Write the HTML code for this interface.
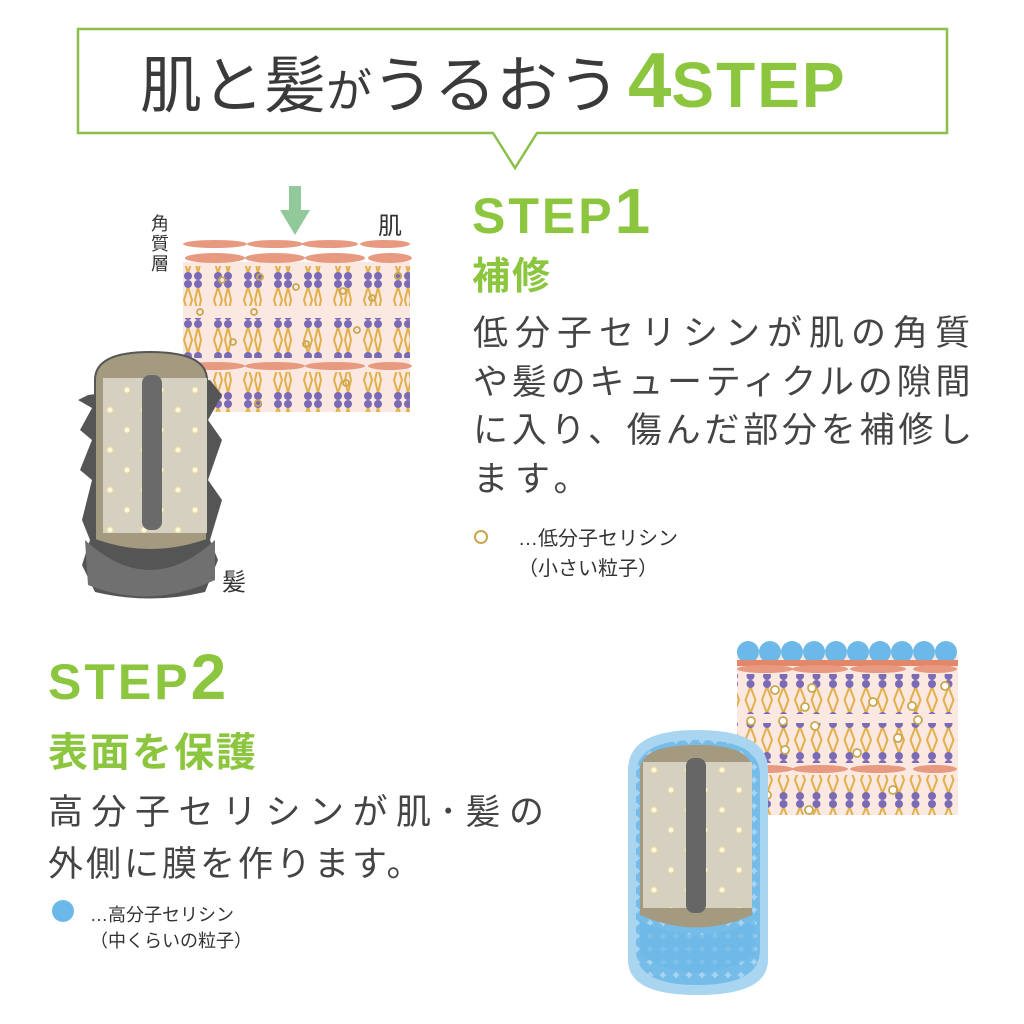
<!DOCTYPE html>
<html><head><meta charset="utf-8"><style>
html,body{margin:0;padding:0;background:#fff;}
body{width:1024px;height:1024px;position:relative;overflow:hidden;font-family:"Liberation Sans","Noto Sans CJK JP",sans-serif;}
.t{position:absolute;white-space:nowrap;}
</style></head><body>
<svg width="1024" height="1024" style="position:absolute;left:0;top:0">
<defs>
<pattern id="lip" width="30" height="40" patternUnits="userSpaceOnUse">
 <path d="M8 7 L4 20 L8 33 L12 20 Z M18 7 L15 20 L18 33 L21 20Z" fill="none" stroke="#e2b04a" stroke-width="2"/>
 <circle cx="8" cy="4" r="4" fill="#7b6bb5"/><circle cx="8" cy="36" r="4" fill="#7b6bb5"/>
 <circle cx="18" cy="4" r="4" fill="#7b6bb5"/><circle cx="18" cy="36" r="4" fill="#7b6bb5"/>
</pattern>
<pattern id="lip2" width="16.5" height="40" patternUnits="userSpaceOnUse">
 <path d="M8 7 L3 20 L8 33 L13 20 Z" fill="none" stroke="#e2b04a" stroke-width="2"/>
 <circle cx="8" cy="4" r="4" fill="#7b6bb5"/><circle cx="8" cy="36" r="4" fill="#7b6bb5"/>
</pattern>
<pattern id="dots" width="34" height="40" patternUnits="userSpaceOnUse">
 <circle cx="8" cy="10" r="3" fill="#fff8dc" stroke="#e8d9a0"/><circle cx="25" cy="30" r="3" fill="#fff8dc" stroke="#e8d9a0"/>
</pattern>
<pattern id="blu" width="13" height="13" patternUnits="userSpaceOnUse">
 <circle cx="6.5" cy="6.5" r="7" fill="#6cb8e8" opacity="0.85"/>
</pattern>
</defs>
<path d="M78 29 H947 V133 H537 L515 168 L493 133 H78 Z" fill="#fff" stroke="#8cbf4a" stroke-width="2.5"/>
<rect x="183" y="262" width="227" height="150" fill="#fbe8e0"/>
<g fill="#e79a80">
<ellipse cx="215" cy="244" rx="32" ry="4"/><ellipse cx="275" cy="244" rx="28" ry="4"/><ellipse cx="330" cy="244" rx="28" ry="4"/><ellipse cx="385" cy="244" rx="25" ry="4"/>
<ellipse cx="215" cy="258" rx="30" ry="5"/><ellipse cx="275" cy="258" rx="30" ry="5"/><ellipse cx="335" cy="258" rx="30" ry="5"/><ellipse cx="390" cy="258" rx="22" ry="5"/>
<ellipse cx="215" cy="366" rx="30" ry="4"/><ellipse cx="275" cy="366" rx="30" ry="4"/><ellipse cx="335" cy="366" rx="30" ry="4"/><ellipse cx="390" cy="366" rx="22" ry="4"/>
</g>
<rect x="183" y="266" width="227" height="40" fill="url(#lip)"/>
<rect x="183" y="318" width="227" height="40" fill="url(#lip)"/>
<rect x="183" y="372" width="227" height="40" fill="url(#lip)"/>
<g fill="none" stroke="#c9a750" stroke-width="1.8">
<circle cx="222" cy="280" r="3"/><circle cx="260" cy="277" r="3"/><circle cx="254" cy="312" r="3"/><circle cx="296" cy="287" r="3"/><circle cx="343" cy="291" r="3"/><circle cx="372" cy="298" r="3"/><circle cx="200" cy="312" r="3"/><circle cx="233" cy="342" r="3"/><circle cx="306" cy="344" r="3"/><circle cx="357" cy="330" r="3"/><circle cx="258" cy="403" r="3"/><circle cx="346" cy="383" r="3"/><circle cx="398" cy="276" r="3"/>
</g>
<path d="M289 186 H301 V210 H310 L295 235 L280 210 H289 Z" fill="#7fc08a" opacity="0.85"/>
<g>
<path d="M88 395 L78 400 L92 408 L80 430 L92 440 L80 470 L92 480 L82 520 L90 540 L82 565 L95 592 Q150 605 205 592 L218 560 L210 540 L222 500 L208 480 L222 440 L208 420 L222 395 L210 380 Z" fill="#555"/>
<path d="M85 540 Q150 600 215 540 L215 580 Q150 610 88 585 Z" fill="#707070"/>
<path d="M95 380 Q95 352 150 352 Q207 352 207 380 V540 Q150 560 95 540 Z" fill="#a39a80" stroke="#555" stroke-width="2"/>
<rect x="103" y="378" width="104" height="155" fill="#d6d0c0"/>
<rect x="103" y="378" width="104" height="155" fill="url(#dots)"/>
<rect x="142" y="375" width="20" height="155" rx="8" fill="#6a6a6a"/>
</g>
<rect x="737" y="655" width="221" height="160" fill="#fbe8e0"/>
<g fill="#6cb8e8"><circle cx="748" cy="652" r="11"/><circle cx="770" cy="652" r="11"/><circle cx="792" cy="652" r="11"/><circle cx="814" cy="652" r="11"/><circle cx="836" cy="652" r="11"/><circle cx="858" cy="652" r="11"/><circle cx="880" cy="652" r="11"/><circle cx="902" cy="652" r="11"/><circle cx="924" cy="652" r="11"/><circle cx="946" cy="652" r="11"/></g>
<rect x="737" y="660" width="221" height="6" fill="#e3876a"/>
<g fill="#e79a80"><ellipse cx="765" cy="669" rx="28" ry="4"/><ellipse cx="820" cy="669" rx="28" ry="4"/><ellipse cx="878" cy="669" rx="28" ry="4"/><ellipse cx="935" cy="669" rx="22" ry="4"/>
<ellipse cx="765" cy="769" rx="28" ry="4"/><ellipse cx="820" cy="769" rx="28" ry="4"/><ellipse cx="878" cy="769" rx="28" ry="4"/><ellipse cx="935" cy="769" rx="22" ry="4"/></g>
<rect x="737" y="674" width="221" height="40" fill="url(#lip2)"/>
<rect x="737" y="723" width="221" height="40" fill="url(#lip2)"/>
<rect x="737" y="775" width="221" height="40" fill="url(#lip2)"/>
<g fill="#fff" stroke="#c9a750" stroke-width="1.8"><circle cx="775" cy="690" r="4"/><circle cx="812" cy="688" r="4"/><circle cx="805" cy="707" r="4"/><circle cx="873" cy="702" r="4"/><circle cx="912" cy="706" r="4"/><circle cx="945" cy="686" r="4"/><circle cx="751" cy="721" r="4"/><circle cx="783" cy="721" r="4"/><circle cx="815" cy="726" r="4"/><circle cx="918" cy="720" r="4"/><circle cx="898" cy="738" r="4"/><circle cx="785" cy="750" r="4"/><circle cx="857" cy="753" r="4"/><circle cx="767" cy="795" r="4"/><circle cx="893" cy="790" r="4"/><circle cx="809" cy="810" r="4"/></g>
<g>
<path d="M628 770 Q628 730 697 730 Q768 730 768 770 V960 Q768 995 697 995 Q628 995 628 960 Z" fill="#a9d5f0"/>
<path d="M636 775 Q636 740 697 740 Q760 740 760 775 V950 Q760 985 697 985 Q636 985 636 950 Z" fill="url(#blu)"/>
<path d="M640 770 Q640 745 697 745 Q752 745 752 770 V915 Q697 940 640 915 Z" fill="#a39a80"/>
<rect x="643" y="762" width="109" height="146" fill="#d6d0c0"/>
<rect x="643" y="762" width="109" height="146" fill="url(#dots)"/>
<rect x="686" y="758" width="20" height="155" rx="8" fill="#666"/>
<path d="M640 920 Q697 950 755 920 V955 Q697 990 640 955 Z" fill="#6cb8e8" opacity="0.7"/>
</g>
<circle cx="481" cy="537" r="6" fill="none" stroke="#c9a750" stroke-width="2"/>
<circle cx="63" cy="911" r="11" fill="#6cb8e8"/>
</svg>

<div class="t" style="left:140px;top:40px;font-size:62px;color:#3a3a3a;line-height:80px;">肌と髪<span style="font-size:46px">が</span>うるおう<span style="color:#8cc63f;font-weight:bold;font-size:78px;margin-left:8px;">4</span><span style="color:#8cc63f;font-weight:bold;font-size:64px;letter-spacing:2px">STEP</span></div>

<div class="t" style="left:151px;top:214px;font-size:18px;line-height:20px;color:#333;">角<br>質<br>層</div>
<div class="t" style="left:378px;top:206px;font-size:24px;color:#333;">肌</div>
<div class="t" style="left:222px;top:562px;font-size:24px;color:#333;">髪</div>

<div class="t" style="left:472px;top:176px;color:#8cc63f;font-weight:bold;line-height:70px;"><span style="font-size:50px;letter-spacing:3px">STEP</span><span style="font-size:64px">1</span></div>
<div class="t" style="left:472px;top:252px;color:#8cc63f;font-weight:bold;font-size:38px;line-height:50px;letter-spacing:2px">補修</div>
<div class="t" style="left:473px;top:310px;color:#444;font-size:35px;line-height:48.5px;">
<div style="letter-spacing:7px">低分子セリシンが肌の角質</div>
<div style="letter-spacing:3.8px">や髪のキューティクルの隙間</div>
<div style="letter-spacing:3.8px">に入り、傷んだ部分を補修し</div>
<div style="letter-spacing:7px">ます。</div>
</div>
<div class="t" style="left:518px;top:524px;color:#333;font-size:20px;line-height:30px;">…低分子セリシン<br>（小さい粒子）</div>

<div class="t" style="left:48px;top:642px;color:#8cc63f;font-weight:bold;line-height:70px;"><span style="font-size:50px;letter-spacing:3px">STEP</span><span style="font-size:64px">2</span></div>
<div class="t" style="left:48px;top:727px;color:#8cc63f;font-weight:bold;font-size:40px;line-height:52px;letter-spacing:2px">表面を保護</div>
<div class="t" style="left:48px;top:787px;color:#444;font-size:35px;line-height:52px;">
<div style="letter-spacing:8.5px">高分子セリシンが肌･髪の</div>
<div style="letter-spacing:3px">外側に膜を作ります。</div>
</div>
<div class="t" style="left:90px;top:902px;color:#333;font-size:18px;line-height:26px;">…高分子セリシン<br>（中くらいの粒子）</div>
</body></html>
